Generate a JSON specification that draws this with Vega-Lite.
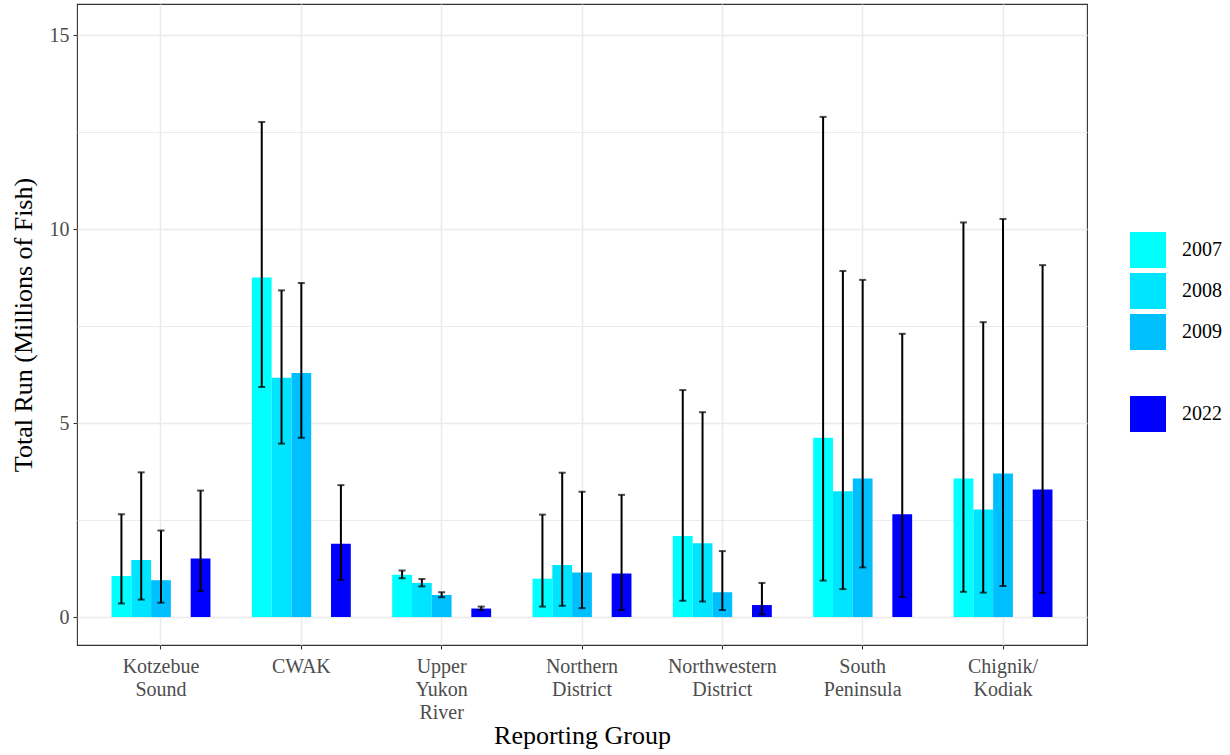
{
  "$schema": "https://vega.github.io/schema/vega-lite/v6.json",
  "width": 1010,
  "height": 641,
  "autosize": "none",
  "padding": {"left": 77, "top": 4, "right": 143, "bottom": 110},
  "background": "white",
  "config": {
    "font": "Liberation Serif",
    "view": {"stroke": "#333333", "strokeWidth": 1.1}
  },
  "data": {
    "values": [
      {"group": "Kotzebue Sound", "year": "2007", "value": 1.06, "lo": 0.35, "hi": 2.65},
      {"group": "Kotzebue Sound", "year": "2008", "value": 1.47, "lo": 0.45, "hi": 3.73},
      {"group": "Kotzebue Sound", "year": "2009", "value": 0.95, "lo": 0.37, "hi": 2.23},
      {"group": "Kotzebue Sound", "year": "2022", "value": 1.51, "lo": 0.67, "hi": 3.26},
      {"group": "CWAK", "year": "2007", "value": 8.75, "lo": 5.93, "hi": 12.76},
      {"group": "CWAK", "year": "2008", "value": 6.17, "lo": 4.47, "hi": 8.42},
      {"group": "CWAK", "year": "2009", "value": 6.29, "lo": 4.62, "hi": 8.61},
      {"group": "CWAK", "year": "2022", "value": 1.89, "lo": 0.96, "hi": 3.40},
      {"group": "Upper Yukon River", "year": "2007", "value": 1.09, "lo": 1.00, "hi": 1.20},
      {"group": "Upper Yukon River", "year": "2008", "value": 0.88, "lo": 0.79, "hi": 0.98},
      {"group": "Upper Yukon River", "year": "2009", "value": 0.57, "lo": 0.51, "hi": 0.64},
      {"group": "Upper Yukon River", "year": "2022", "value": 0.22, "lo": 0.18, "hi": 0.27},
      {"group": "Northern District", "year": "2007", "value": 0.99, "lo": 0.27, "hi": 2.64},
      {"group": "Northern District", "year": "2008", "value": 1.34, "lo": 0.29, "hi": 3.72},
      {"group": "Northern District", "year": "2009", "value": 1.15, "lo": 0.23, "hi": 3.23},
      {"group": "Northern District", "year": "2022", "value": 1.12, "lo": 0.18, "hi": 3.15},
      {"group": "Northwestern District", "year": "2007", "value": 2.09, "lo": 0.42, "hi": 5.85},
      {"group": "Northwestern District", "year": "2008", "value": 1.90, "lo": 0.40, "hi": 5.28},
      {"group": "Northwestern District", "year": "2009", "value": 0.64, "lo": 0.18, "hi": 1.70},
      {"group": "Northwestern District", "year": "2022", "value": 0.31, "lo": 0.07, "hi": 0.88},
      {"group": "South Peninsula", "year": "2007", "value": 4.62, "lo": 0.94, "hi": 12.89},
      {"group": "South Peninsula", "year": "2008", "value": 3.24, "lo": 0.72, "hi": 8.92},
      {"group": "South Peninsula", "year": "2009", "value": 3.57, "lo": 1.28, "hi": 8.69},
      {"group": "South Peninsula", "year": "2022", "value": 2.65, "lo": 0.52, "hi": 7.30},
      {"group": "Chignik/Kodiak", "year": "2007", "value": 3.57, "lo": 0.65, "hi": 10.17},
      {"group": "Chignik/Kodiak", "year": "2008", "value": 2.77, "lo": 0.63, "hi": 7.60},
      {"group": "Chignik/Kodiak", "year": "2009", "value": 3.70, "lo": 0.80, "hi": 10.26},
      {"group": "Chignik/Kodiak", "year": "2022", "value": 3.29, "lo": 0.62, "hi": 9.07}
    ]
  },
  "encoding": {
    "x": {
      "field": "group",
      "type": "nominal",
      "sort": ["Kotzebue Sound", "CWAK", "Upper Yukon River", "Northern District", "Northwestern District", "South Peninsula", "Chignik/Kodiak"],
      "scale": {"paddingInner": 0.295, "paddingOuter": 0.246},
      "axis": {
        "title": "Reporting Group",
        "titleFontSize": 26,
        "titleFontWeight": "normal",
        "titleColor": "black",
        "titlePadding": 0,
        "labelAngle": 0,
        "labelFontSize": 20,
        "labelColor": "#4D4D4D",
        "labelLineHeight": 23,
        "labelPadding": 7,
        "labelExpr": "split(replace(datum.label, '/', '/ '), ' ')",
        "bandPosition": 0.5,
        "domain": false,
        "ticks": true,
        "tickSize": 4,
        "tickColor": "#333333",
        "tickWidth": 1.1,
        "grid": true,
        "gridColor": "#EBEBEB",
        "gridWidth": 1.5
      }
    },
    "xOffset": {
      "field": "year",
      "type": "nominal",
      "scale": {"domain": ["2007", "2008", "2009", " ", "2022"], "paddingInner": 0, "paddingOuter": 0}
    }
  },
  "layer": [
    {
      "mark": {"type": "bar"},
      "encoding": {
        "y": {
          "field": "value",
          "type": "quantitative",
          "scale": {"domain": [-0.72, 15.8], "nice": false, "zero": false},
          "axis": {
            "title": "Total Run (Millions of Fish)",
            "titleFontSize": 26,
            "titleFontWeight": "normal",
            "titleColor": "black",
            "titlePadding": 13,
            "values": [0, 2.5, 5, 7.5, 10, 12.5, 15],
            "labelExpr": "datum.value % 5 === 0 ? '' + datum.value : ''",
            "labelFontSize": 20,
            "labelColor": "#4D4D4D",
            "labelPadding": 4,
            "domain": false,
            "tickSize": 4,
            "tickColor": "#333333",
            "tickWidth": 1.1,
            "tickOpacity": {"condition": {"test": "datum.value % 5 !== 0", "value": 0}, "value": 1},
            "grid": true,
            "gridColor": "#EBEBEB",
            "gridWidth": {"condition": {"test": "datum.value % 5 !== 0", "value": 1.0}, "value": 1.5}
          }
        },
        "color": {
          "field": "year",
          "type": "nominal",
          "scale": {"domain": ["2007", "2008", "2009", " ", "2022"], "range": ["#00FFFF", "#00E5FF", "#00BFFF", "#FFFFFF", "#0000FF"]},
          "legend": {
            "title": null,
            "orient": "none",
            "legendX": 1052,
            "legendY": 227,
            "padding": 0,
            "symbolType": "square",
            "symbolSize": 1369,
            "symbolStrokeColor": "white",
            "symbolStrokeWidth": 1,
            "symbolOpacity": 1,
            "rowPadding": -1,
            "labelFontSize": 20,
            "labelColor": "black",
            "labelOffset": 15
          }
        }
      }
    },
    {
      "mark": {"type": "rule", "color": "black", "strokeWidth": 2},
      "encoding": {
        "y": {"field": "lo", "type": "quantitative"},
        "y2": {"field": "hi"}
      }
    },
    {
      "mark": {"type": "tick", "color": "black", "size": 7, "thickness": 2, "orient": "horizontal"},
      "encoding": {"y": {"field": "lo", "type": "quantitative"}}
    },
    {
      "mark": {"type": "tick", "color": "black", "size": 7, "thickness": 2, "orient": "horizontal"},
      "encoding": {"y": {"field": "hi", "type": "quantitative"}}
    }
  ]
}
